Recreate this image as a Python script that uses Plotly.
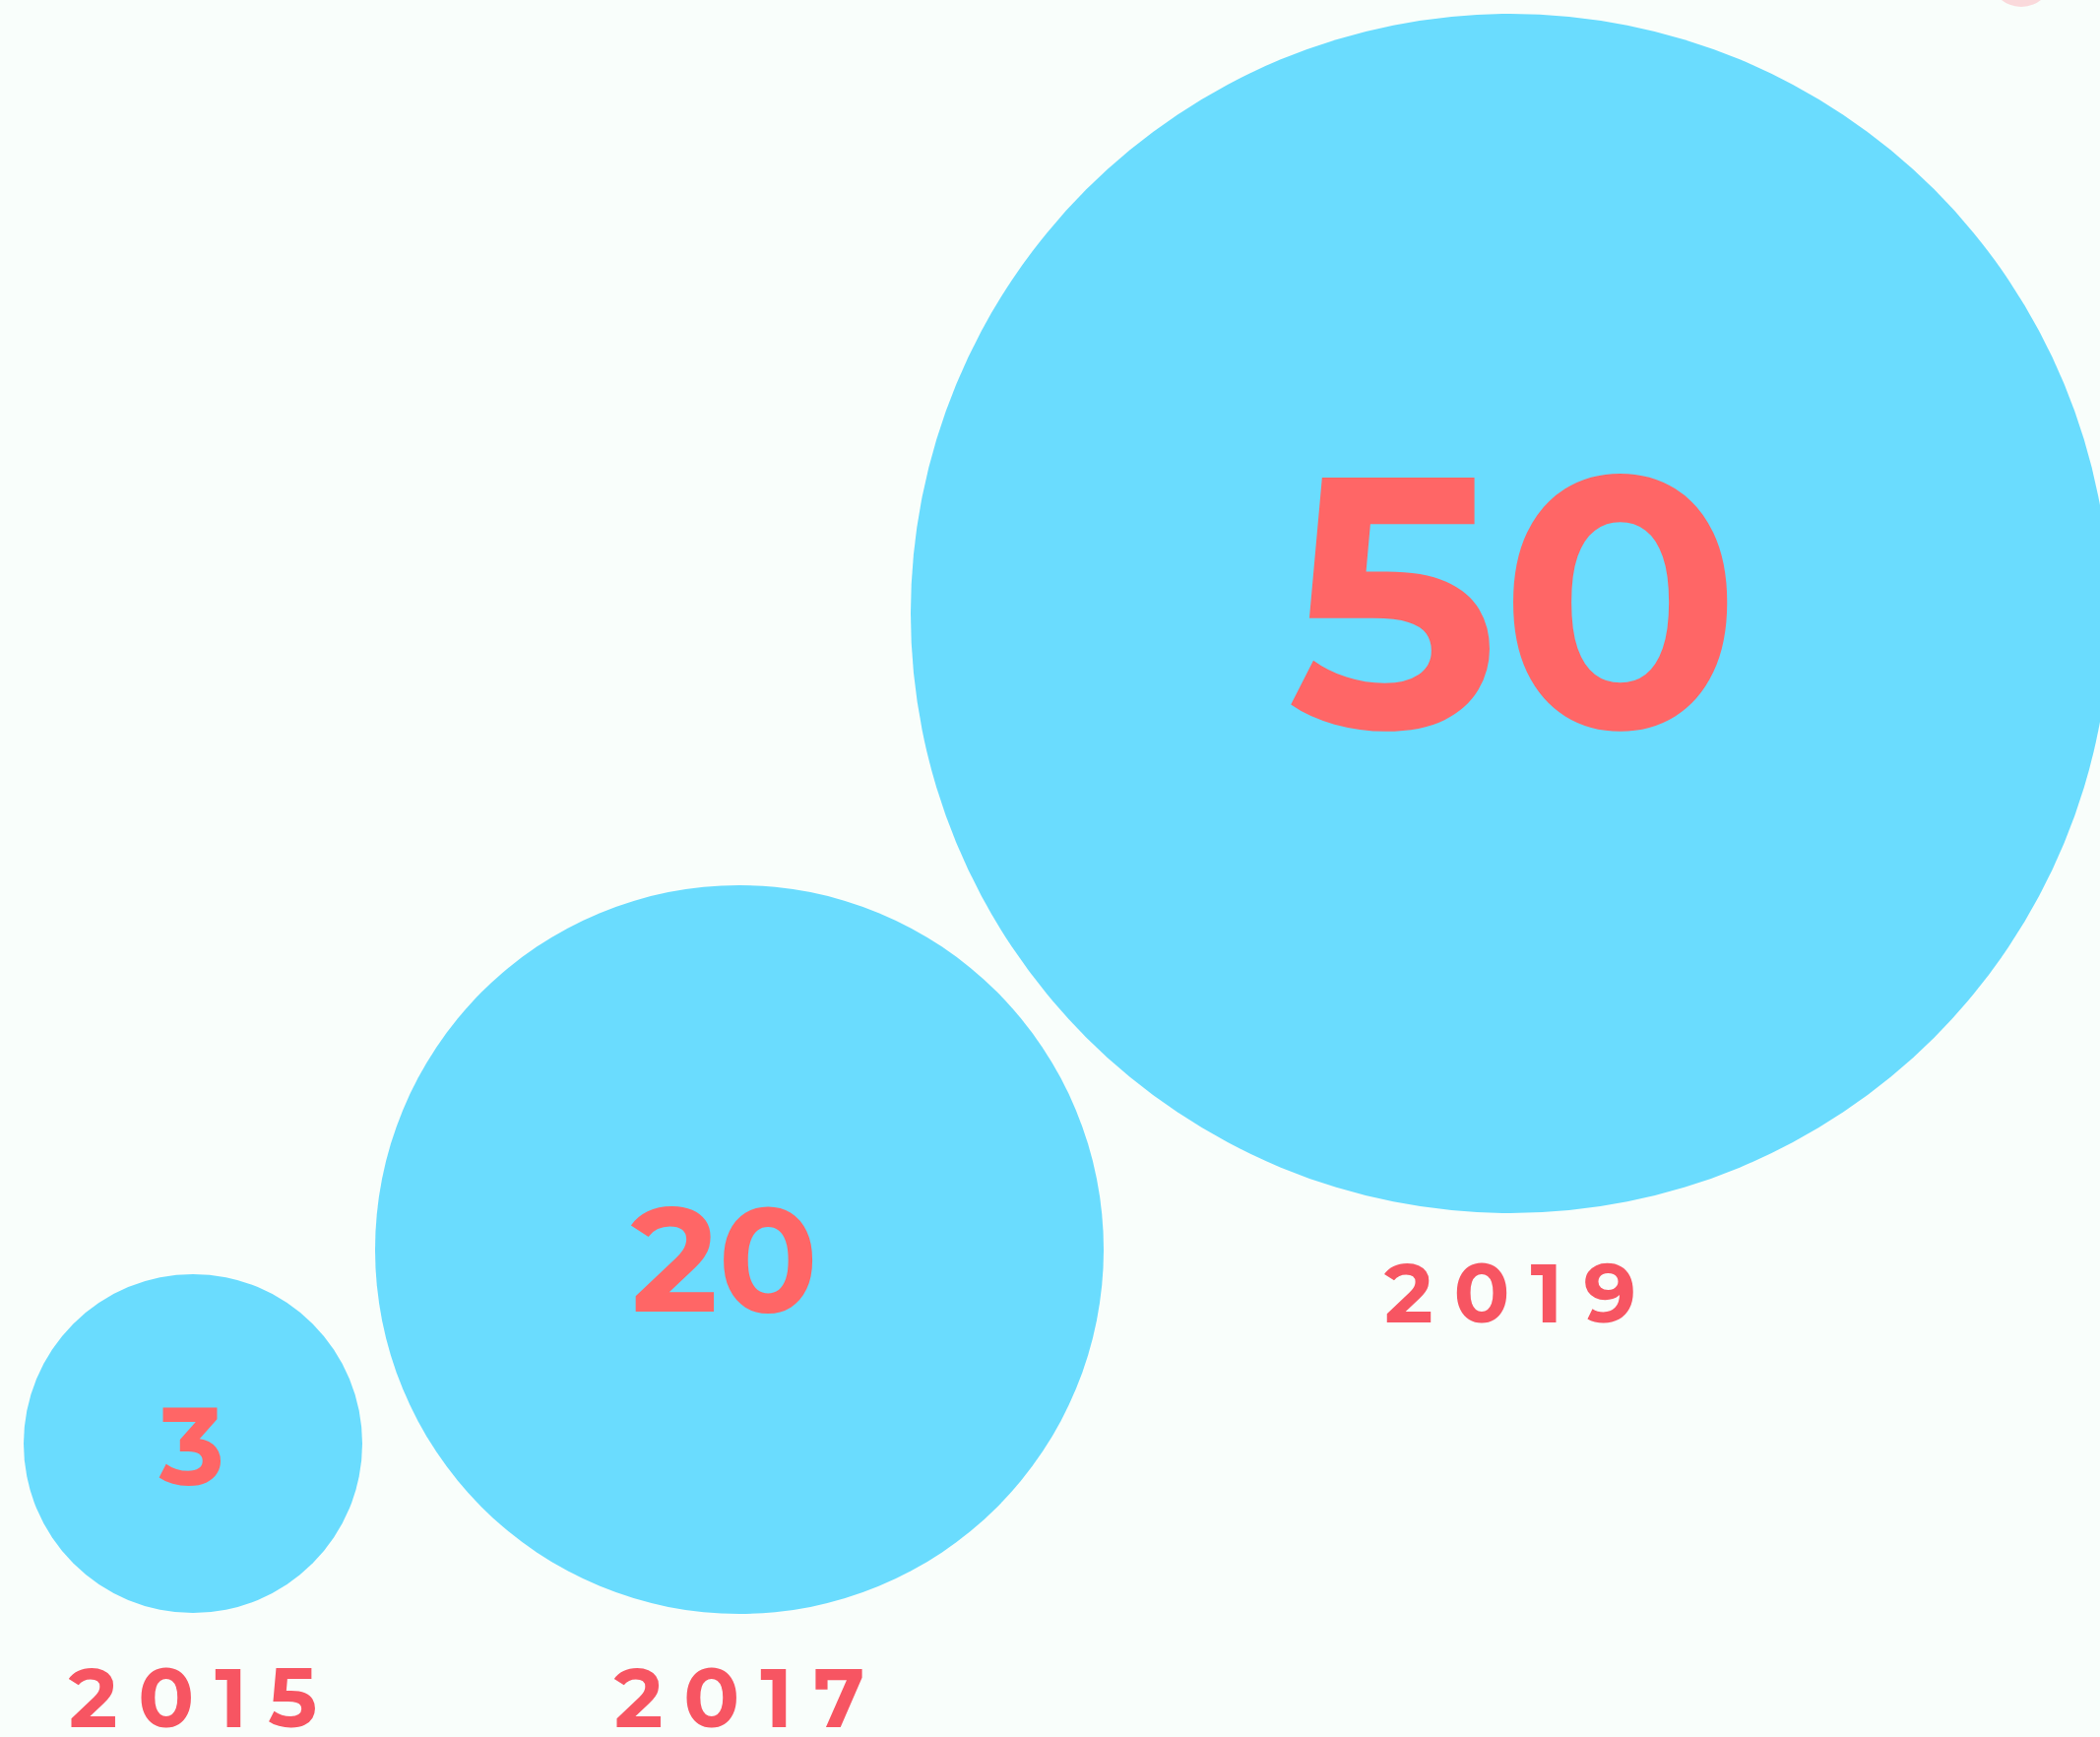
import plotly.graph_objects as go

# ---- data ----
years = ["2015", "2017", "2019"]
values = [3, 20, 50]

# ---- layout (pixel space of the canvas) ----
W, H = 2133, 1764
center_x = [196, 751, 1534]
center_y = [1466, 1269, 623]
bubble_diam = [344, 740, 1218]
value_font = [112, 150, 362]
value_dx = [-1, -15, 4]
value_dy = [14, 25, 25]
label_y = [1733, 1733, 1322]

accent_x = [2053]
accent_y = [-25]
accent_diam = [64]

BG = "#f9fefb"
BUBBLE = "#6adcfe"
NUM = "#ff6666"
YEAR = "#f75562"
FONT = "Montserrat, Inter, Lato, sans-serif"

fig = go.Figure()

fig.add_trace(go.Scatter(
    x=accent_x, y=accent_y, mode="markers",
    marker=dict(size=accent_diam, color="#fbc9cd", line=dict(width=0)),
    hoverinfo="skip", showlegend=False,
))

fig.add_trace(go.Scatter(
    x=center_x, y=center_y, mode="markers",
    marker=dict(size=bubble_diam, sizemode="diameter", color=BUBBLE, line=dict(width=0), opacity=1),
    hoverinfo="skip", showlegend=False,
))

fig.add_trace(go.Scatter(
    x=[cx + d for cx, d in zip(center_x, value_dx)],
    y=[cy + d for cy, d in zip(center_y, value_dy)],
    mode="text",
    text=[str(v) for v in values], textposition="middle center",
    textfont=dict(family=FONT, size=value_font, color=NUM, weight=700),
    hoverinfo="skip", showlegend=False,
))

fig.add_trace(go.Scatter(
    x=center_x, y=label_y, mode="text",
    text=["\u2005".join(list(y)) for y in years], textposition="middle center",
    textfont=dict(family=FONT, size=84, color=YEAR, weight=700),
    hoverinfo="skip", showlegend=False,
))

fig.update_layout(
    width=W, height=H,
    margin=dict(l=0, r=0, t=0, b=0),
    paper_bgcolor=BG, plot_bgcolor=BG,
    xaxis=dict(range=[0, W], visible=False, fixedrange=True),
    yaxis=dict(range=[H, 0], visible=False, fixedrange=True),
)

fig.write_html("out.html", config={"displayModeBar": False},
               post_script="document.body.style.margin='0';document.body.style.overflow='hidden';")
